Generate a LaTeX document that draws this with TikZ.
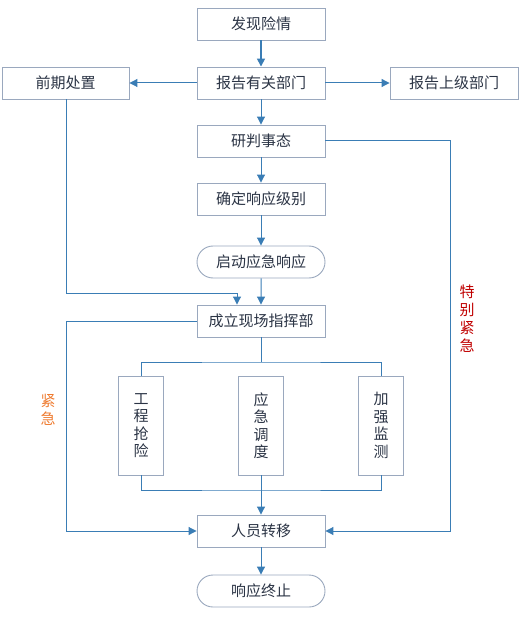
\documentclass[tikz,border=0pt]{standalone}
\usepackage{fontspec}
\setmainfont{Noto Sans CJK SC}
\usetikzlibrary{arrows.meta,shapes.misc}
\definecolor{boxline}{HTML}{9AA8BE}
\definecolor{conn}{HTML}{3A7DB5}
\definecolor{txt}{HTML}{2B3445}
\definecolor{urg}{HTML}{EE7B30}
\definecolor{surg}{HTML}{C00000}
\tikzset{
  box/.style={draw=boxline,line width=0.9pt,fill=white,minimum width=128pt,minimum height=32pt,inner sep=0pt,font=\fontsize{15}{18}\selectfont,text=txt},
  rbox/.style={box,rounded rectangle},
  vbox/.style={draw=boxline,line width=0.9pt,fill=white,minimum width=45pt,minimum height=99pt,inner sep=0pt,align=center,font=\fontsize{15}{17.5}\selectfont,text=txt},
  conn/.style={draw=conn,line width=1pt},
  arr/.style={conn,-{Triangle[length=8pt,width=8pt]}},
  vlab/.style={align=center,font=\fontsize{15}{18}\selectfont},
}
\begin{document}
\begin{tikzpicture}[x=1pt,y=-1pt]
\useasboundingbox (0,0) rectangle (522,617);
\node[box] (a) at (261,24) {发现险情};
\node[box] (b) at (261,83) {报告有关部门};
\node[box,minimum width=127pt] (l) at (65.5,83) {前期处置};
\node[box] (r) at (454,83) {报告上级部门};
\node[box] (c) at (261,141) {研判事态};
\node[box] (d) at (261,199) {确定响应级别};
\node[rbox] (e) at (261,262) {启动应急响应};
\node[box] (f) at (261,321) {成立现场指挥部};
\node[vbox] (g1) at (141,425.5) {工\\程\\抢\\险};
\node[vbox] (g2) at (261,425.5) {应\\急\\调\\度};
\node[vbox] (g3) at (381,425.5) {加\\强\\监\\测};
\node[box] (h) at (261,531) {人员转移};
\node[rbox] (i) at (261,591) {响应终止};
\coordinate (lj) at (237,293);
\coordinate (tbus) at (261,362);
\coordinate (bbus) at (261,490);

\draw[arr,line width=1.6pt] (a) -- (b);
\draw[arr] (b) -- (l);
\draw[arr] (b) -- (r);
\draw[arr] (b) -- (c);
\draw[arr] (c) -- (d);
\draw[arr] (d) -- (e);
\draw[arr] (e) -- (f);
\draw[conn] (l.south -| 66,0) |- (lj);
\draw[arr] (lj) -- (lj |- f.north);
\draw[conn] (f) -- (tbus);
\draw[conn] (g1.north) |- (tbus) -| (g3.north);
\draw[conn] (g1.south) |- (bbus) -| (g3.south);
\draw[arr] (g2.south) -- (h.north);
\draw[arr] (f.west) -| (66,531) -- (h.west);
\draw[arr] (c.east) -| (450,531) -- (h.east);
\draw[arr] (h) -- (i);
\node[vlab,text=urg] (u) at (48,410) {紧\\急};
\node[vlab,text=surg] (s) at (467,319) {特\\别\\紧\\急};
\end{tikzpicture}
\end{document}
